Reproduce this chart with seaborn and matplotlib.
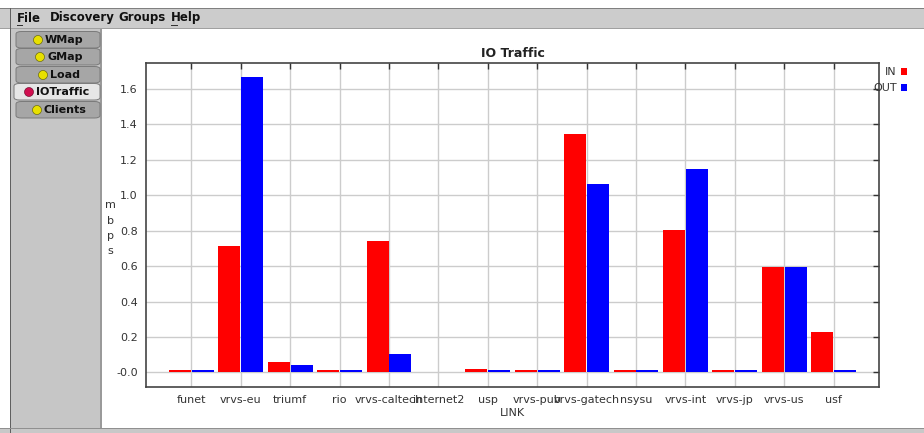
import matplotlib
matplotlib.use("Agg")
import matplotlib.pyplot as plt
from matplotlib.patches import Rectangle, FancyBboxPatch, Ellipse
import seaborn as sns
import pandas as pd

links = ["funet", "vrvs-eu", "triumf", "rio", "vrvs-caltech", "internet2", "usp",
         "vrvs-pub", "vrvs-gatech", "nsysu", "vrvs-int", "vrvs-jp", "vrvs-us", "usf"]
in_vals = [0.012, 0.714, 0.057, 0.012, 0.741, 0.0, 0.020, 0.012, 1.342, 0.012, 0.803, 0.012, 0.596, 0.226]
out_vals = [0.012, 1.666, 0.042, 0.012, 0.106, 0.0, 0.012, 0.012, 1.060, 0.012, 1.145, 0.012, 0.596, 0.012]
series = ["IN", "OUT"]
colors = ["#ff0000", "#0000ff"]
ytick_vals = [0.0, 0.2, 0.4, 0.6, 0.8, 1.0, 1.2, 1.4, 1.6]
ytick_labels = ["-0.0", "0.2", "0.4", "0.6", "0.8", "1.0", "1.2", "1.4", "1.6"]
tabs = ["WMap", "GMap", "Load", "IOTraffic", "Clients"]
menus = ["File", "Discovery", "Groups", "Help"]

df = pd.DataFrame({
    "LINK": links * 2,
    "mbps": in_vals + out_vals,
    "series": [series[0]] * len(links) + [series[1]] * len(links),
})

sns.set_style("white")
plt.rcParams["font.family"] = ["DejaVu Sans"]

W, H = 924, 433
fig = plt.figure(figsize=(W / 100, H / 100), dpi=100)
fig.patch.set_facecolor("white")

def px(x, y, w, h):
    return (x / W, 1 - (y + h) / H, w / W, h / H)

def frect(x, y, w, h, fc, ec="none", lw=0, z=0):
    r = Rectangle((x / W, 1 - (y + h) / H), w / W, h / H, transform=fig.transFigure,
                  facecolor=fc, edgecolor=ec, linewidth=lw, zorder=z)
    fig.patches.append(r)

# window chrome
frect(0, 0, W, 8, "#ffffff")
frect(0, 8, W, 20, "#cccccc", z=1)
frect(0, 7.5, W, 1, "#808080", z=2)
frect(0, 28, W, 1.2, "#a0a0a0", z=2)
frect(10, 8, 1.2, 425, "#606060", z=2)
frect(11, 29, 90, 399, "#c6c6c6", z=1)
frect(100, 29, 1.5, 399, "#9a9a9a", z=2)
frect(101.5, 29, W - 101.5, 399, "#ffffff", z=1)
frect(0, 428, W, 5, "#c8c8c8", z=1)
frect(0, 428, W, 1, "#909090", z=2)

menu_x = [17, 50, 118, 171]
for m, mx in zip(menus, menu_x):
    fig.text(mx / W, 1 - 18 / H, m, fontsize=8.5, fontweight="bold", color="#111111",
             va="center", ha="left", zorder=5)
# mnemonic underlines under F and H
frect(17, 24.5, 6, 1, "#333333", z=5)
frect(171, 24.5, 7, 1, "#333333", z=5)

tab_y = [31, 48, 66, 83, 101]
ball_x = [38, 40, 43, 29, 37]
for t, ty, bx in zip(tabs, tab_y, ball_x):
    sel = (t == "IOTraffic")
    x0 = 14 if sel else 16
    fc = "#e6e6e6" if sel else "#a6a6a6"
    b = FancyBboxPatch((x0 / W, 1 - (ty + 17) / H), (100 - x0) / W, 16.5 / H,
                       boxstyle="round,pad=0,rounding_size=0.006", transform=fig.transFigure,
                       facecolor=fc, edgecolor="#7a7a7a", linewidth=0.7, zorder=3)
    fig.patches.append(b)
    ball = "#d01050" if sel else "#e8e000"
    c = Ellipse((bx / W, 1 - (ty + 9) / H), 9 / W, 9 / H, transform=fig.transFigure,
                facecolor=ball, edgecolor="#555500" if not sel else "#600020",
                linewidth=0.4, zorder=4)
    fig.patches.append(c)
    fig.text((bx + 7) / W, 1 - (ty + 9) / H, t, fontsize=8, fontweight="bold",
             color="#111111", va="center", ha="left", zorder=5)

# chart axes
ax = fig.add_axes(px(146, 63, 733, 324))
ax.set_zorder(6)
sns.barplot(data=df, x="LINK", y="mbps", hue="series", palette=colors, ax=ax,
            width=0.92, gap=0.03, saturation=1, legend=False, errorbar=None,
            edgecolor="none", linewidth=0)

ax.set_xlim(-0.92, len(links) - 1 + 0.92)
ax.set_ylim(-0.082, 1.745)
ax.set_yticks(ytick_vals)
ax.set_yticklabels(ytick_labels)
ax.set_xticks(range(len(links)))
ax.set_xticklabels(links)
ax.grid(True, color="#cccccc", linewidth=1.0)
ax.set_axisbelow(True)
ax.tick_params(axis="both", direction="in", length=4, width=1, color="#333333",
               labelsize=8, labelcolor="#333333", top=True, right=True, pad=6)
for s in ax.spines.values():
    s.set_color("#444444")
    s.set_linewidth(1.2)
ax.set_xlabel("LINK", fontsize=8, color="#333333", labelpad=2)
ax.set_ylabel("")
ax.set_title("IO Traffic", fontsize=9, fontweight="bold", color="#222222", pad=4)

# vertical stacked y label
for i, ch in enumerate("mbps"):
    fig.text(110 / W, 1 - (205 + i * 15.5) / H, ch, fontsize=8, color="#333333",
             ha="center", va="center", zorder=7)

# legend
for i, (sname, col) in enumerate(zip(series, colors)):
    yy = 72 + i * 16
    fig.text(897 / W, 1 - yy / H, sname, fontsize=8, color="#333333", ha="right",
             va="center", zorder=7)
    frect(901, yy - 3.5, 6, 6, col, z=7)

fig.savefig("out.png", dpi=100)
